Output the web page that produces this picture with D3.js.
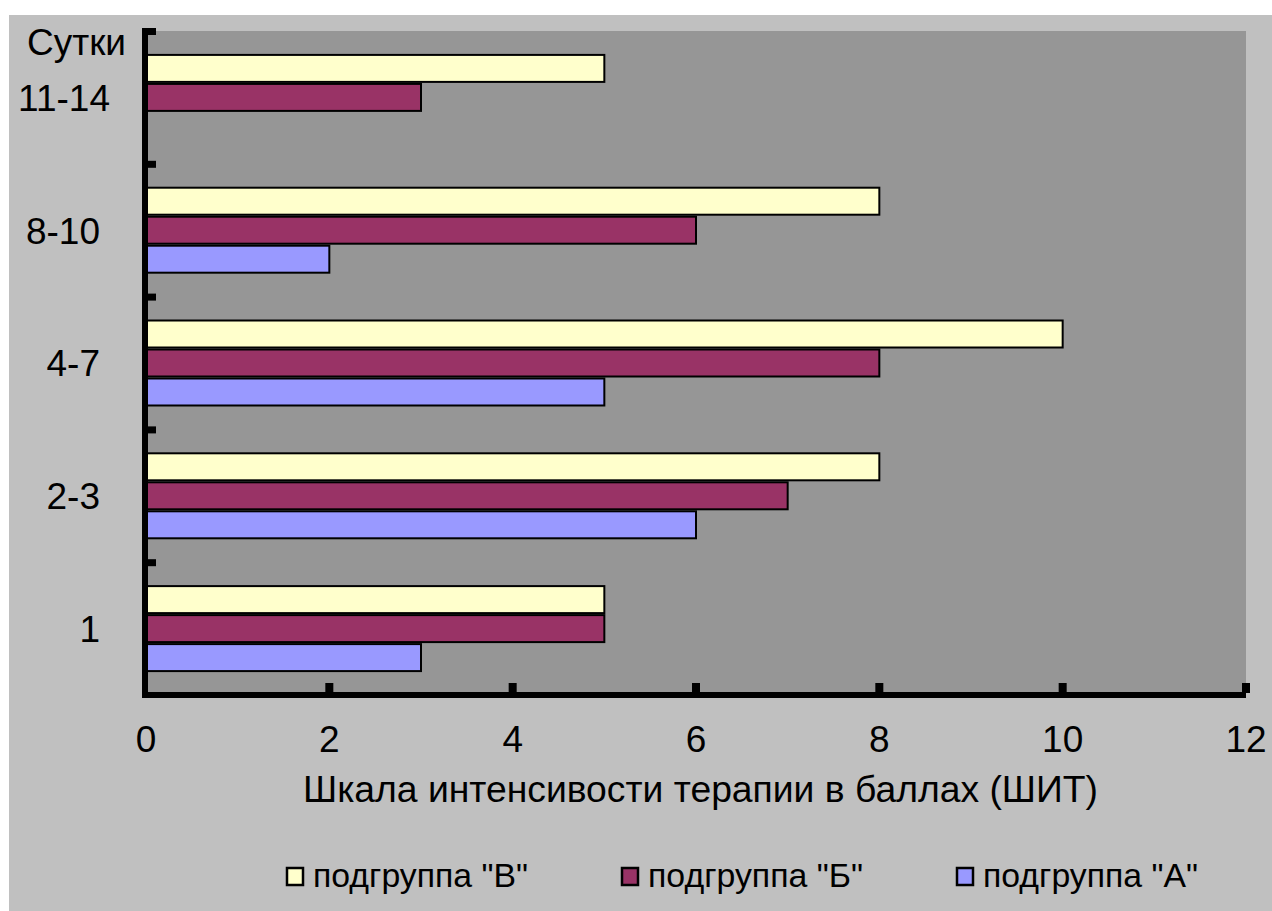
<!DOCTYPE html>
<html><head><meta charset="utf-8">
<script src="https://cdn.jsdelivr.net/npm/d3@7"></script>
<style>body{margin:0;background:#fff}svg{display:block}text{font-family:"Liberation Sans",Arial,sans-serif;fill:#000}</style>
</head><body>
<script>
const categories = ["1", "2-3", "4-7", "8-10", "11-14"];
const seriesNames = ['подгруппа "В"', 'подгруппа "Б"', 'подгруппа "А"'];
const seriesKeys = ["V", "B", "A"];
const valuesV = [5, 8, 10, 8, 5];
const valuesB = [5, 7, 8, 6, 3];
const valuesA = [3, 6, 5, 2, 0];
const xTicks = [0, 2, 4, 6, 8, 10, 12];
const colors = ["#FFFFCC", "#993366", "#9999FF"];
const yTitle = "Сутки";
const xTitle = "Шкала интенсивости терапии в баллах (ШИТ)";

const W = 1272, H = 911;
const svg = d3.select("body").append("svg").attr("width", W).attr("height", H);
svg.append("rect").attr("x", 9).attr("y", 15).attr("width", W - 9).attr("height", H - 15).attr("fill", "#C0C0C0");

const pl = 146, pr = 1246, pt = 31, pb = 695;
const x = d3.scaleLinear().domain([0, 12]).range([pl, pr]);
const y0 = d3.scaleBand().domain(categories.slice().reverse()).range([pt, pb]).padding(0);
const y1 = d3.scaleBand().domain(seriesKeys).range([0, y0.bandwidth()]).paddingInner(0).paddingOuter(0.79);

svg.append("rect").attr("x", pl + 2).attr("y", pt).attr("width", pr - pl - 2).attr("height", pb - pt).attr("fill", "#969696");

const series = [valuesV, valuesB, valuesA];
const data = [];
categories.forEach((c, i) => series.forEach((s, j) => {
  if (s[i] > 0) data.push({c, k: seriesKeys[j], v: s[i], color: colors[j]});
}));

svg.append("g").selectAll("rect").data(data).join("rect")
  .attr("x", x(0)).attr("y", d => y0(d.c) + y1(d.k) + 1)
  .attr("width", d => x(d.v) - x(0)).attr("height", y1.bandwidth() - 2)
  .attr("fill", d => d.color).attr("stroke", "#000").attr("stroke-width", 2);

// axes lines
svg.append("rect").attr("x", 142).attr("y", 28).attr("width", 6).attr("height", pb + 3 - 28).attr("fill", "#000");
svg.append("rect").attr("x", 142).attr("y", 692).attr("width", pr - 142).attr("height", 6).attr("fill", "#000");

// y ticks at band boundaries
svg.append("g").selectAll("rect").data(categories.slice(0, 4).map(c => y0(c)).concat([pt]))
  .join("rect").attr("x", 143).attr("y", d => d - 3).attr("width", 13).attr("height", 7).attr("fill", "#000");

// x ticks
svg.append("g").selectAll("rect").data(xTicks.filter(t => t > 0)).join("rect")
  .attr("x", d => x(d) - 4).attr("y", 683).attr("width", 8).attr("height", 10).attr("fill", "#000");

// x tick labels
svg.append("g").selectAll("text").data(xTicks).join("text")
  .attr("x", d => x(d)).attr("y", 752).attr("text-anchor", "middle")
  .attr("font-size", 37).text(d => d);

// y labels
svg.append("g").selectAll("text").data(categories).join("text")
  .attr("x", d => d === "11-14" ? 110 : 100).attr("y", d => y0(d) + y0.bandwidth() / 2)
  .attr("dy", "0.36em").attr("text-anchor", "end").attr("font-size", 37).text(d => d);

svg.append("text").attr("x", 27).attr("y", 55).attr("font-size", 37).text(yTitle);

svg.append("text").attr("x", 303).attr("y", 802)
  .attr("font-size", 37).attr("textLength", 795).attr("lengthAdjust", "spacingAndGlyphs").text(xTitle);

// legend
const legX = [285, 620, 955];
const lg = svg.append("g").selectAll("g").data(seriesNames).join("g")
  .attr("transform", (d, i) => `translate(${legX[i]},867)`);
lg.append("rect").attr("x", 2).attr("y", 1).attr("width", 16).attr("height", 17)
  .attr("fill", (d, i) => colors[i]).attr("stroke", "#000").attr("stroke-width", 2.5);
lg.append("text").attr("x", 28).attr("y", 20).attr("font-size", 33)
  .attr("textLength", 215).attr("lengthAdjust", "spacingAndGlyphs").text(d => d);
</script>
</body></html>
